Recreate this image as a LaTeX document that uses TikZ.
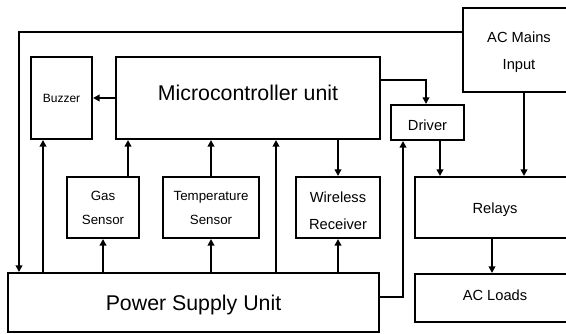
\documentclass[tikz,border=0pt]{standalone}
\usepackage{fontspec}
\setmainfont{Liberation Sans}
\usetikzlibrary{arrows.meta}
% #1 name, #2-#5 x1 y1 x2 y2 (px), #6 text, #7 font style, #8 text y offset (px)
\newcommand{\pxbox}[8]{%
  \node[box, minimum width={(#4-#2)*0.75pt}, minimum height={(#5-#3)*0.75pt}]
    (#1) at ({(#2+#4)/2},{(#3+#5)/2}) {};
  \node[#7,align=center,inner sep=0pt,text=black] (#1-t) at ([yshift={-(#8)*0.75pt}]#1.center) {#6};}
\begin{document}
\begin{tikzpicture}[x=0.75pt,y=-0.75pt,
  box/.style={draw,line width=1.5pt,rectangle,inner sep=0pt},
  conn/.style={line width=1.5pt},
  arr/.style={conn,-{Triangle[width=5pt,length=5pt]}},
  big/.style={font=\fontsize{16}{19}\selectfont},
  mid/.style={font=\fontsize{11}{20}\selectfont},
  sml/.style={font=\fontsize{10}{18}\selectfont},
  tiny/.style={font=\fontsize{9}{11}\selectfont}]
\useasboundingbox (0,0) rectangle (566,334);
\clip (0,0) rectangle (566,334);
\fill[white] (0,0) rectangle (566,334);
\pxbox{buzzer}{31}{57}{92}{139}{Buzzer}{tiny}{0}
\pxbox{mcu}{116}{57}{380}{139}{Microcontroller unit}{big}{-5}
\pxbox{acm}{463}{8}{575}{92}{AC Mains\\Input}{mid}{2}
\pxbox{driver}{391}{105}{464}{140}{Driver}{mid}{2.5}
\pxbox{gas}{67}{177}{139}{238}{Gas\\Sensor}{sml}{0.5}
\pxbox{temp}{163}{177}{259}{238}{Temperature\\Sensor}{sml}{0.5}
\pxbox{wr}{296}{177}{380}{238}{Wireless\\Receiver}{mid}{3}
\pxbox{relays}{415}{177}{575}{238}{Relays}{mid}{2}
\pxbox{loads}{415}{274}{575}{322}{AC Loads}{mid}{-2.5}
\pxbox{psu}{8}{273}{379}{332}{Power Supply Unit}{big}{2}
% connectors
\coordinate (c1) at (19,32);
\draw[arr] (acm.west |- c1) -- (c1) -- (c1 |- psu.north);
\coordinate (c0) at (0,98);
\draw[arr] (mcu.west |- c0) -- (buzzer.east |- c0);
\coordinate (c2) at (426,80);
\draw[arr] (mcu.east |- c2) -- (c2) -- (c2 |- driver.north);
\coordinate (cw) at (338,0);
\draw[arr] (cw |- mcu.south) -- (cw |- wr.north);
\coordinate (c3) at (440,0);
\draw[arr] (c3 |- driver.south) -- (c3 |- relays.north);
\coordinate (c4) at (524,0);
\draw[arr] (c4 |- acm.south) -- (c4 |- relays.north);
\coordinate (c5) at (492,0);
\draw[arr] (c5 |- relays.south) -- (c5 |- loads.north);
\coordinate (c6) at (403,297);
\draw[arr] (psu.east |- c6) -- (c6) -- (c6 |- driver.south);
\draw[arr] (cw |- psu.north) -- (cw |- wr.south);
\coordinate (c7) at (276,0);
\draw[arr] (c7 |- psu.north) -- (c7 |- mcu.south);
\coordinate (ct) at (211,0);
\draw[arr] (ct |- psu.north) -- (ct |- temp.south);
\draw[arr] (ct |- temp.north) -- (ct |- mcu.south);
\draw[arr] (gas.south |- psu.north) -- (gas.south);
\coordinate (c8) at (128,0);
\draw[arr] (c8 |- gas.north) -- (c8 |- mcu.south);
\coordinate (c9) at (43,0);
\draw[arr] (c9 |- psu.north) -- (c9 |- buzzer.south);
\end{tikzpicture}
\end{document}
